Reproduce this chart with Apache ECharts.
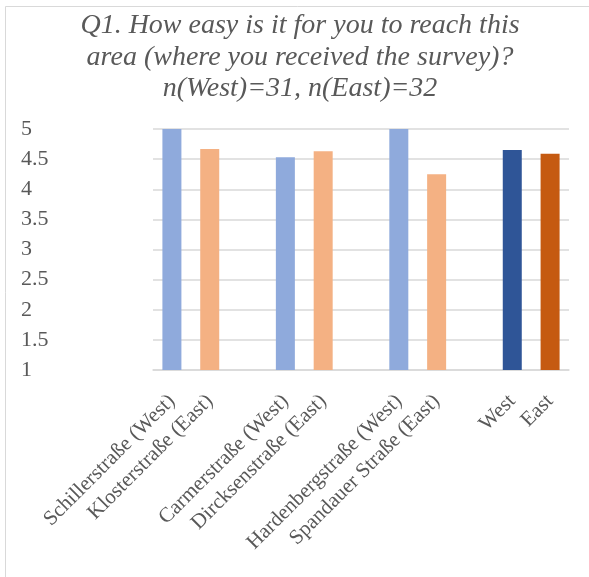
<!DOCTYPE html>
<html>
<head>
<meta charset="utf-8">
<style>
  html, body { margin: 0; padding: 0; background: #ffffff; }
  #chart { width: 589px; height: 577px; }
</style>
<script src="https://cdn.jsdelivr.net/npm/echarts@6/dist/echarts.min.js"></script>
</head>
<body>
<div id="chart"></div>
<script>
// Survey question and sample sizes
const titleLines = [
  'Q1. How easy is it for you to reach this',
  'area (where you received the survey)?',
  'n(West)=31, n(East)=32'
];

// Locations (blank entries leave a gap between location pairs)
const categories = [
  'Schillerstraße (West)', 'Klosterstraße (East)', '',
  'Carmerstraße (West)', 'Dircksenstraße (East)', '',
  'Hardenbergstraße (West)', 'Spandauer Straße (East)', '',
  'West', 'East'
];

// Mean rating per location
const meanScores = [5.0, 4.67, null, 4.53, 4.63, null, 5.0, 4.25, null, 4.65, 4.59];

// Value axis
const yMin = 1;
const yMax = 5;
const yStep = 0.5;

const palette = {
  westSite: '#8FAADC',
  eastSite: '#F4B183',
  westTotal: '#2F5597',
  eastTotal: '#C55A11'
};

function barColor(name) {
  if (name === 'West') return palette.westTotal;
  if (name === 'East') return palette.eastTotal;
  return name.indexOf('(West)') >= 0 ? palette.westSite : palette.eastSite;
}

const textColor = '#595959';
const serif = '"Liberation Serif", "Times New Roman", serif';

const chart = echarts.init(document.getElementById('chart'), null, { renderer: 'canvas' });

chart.setOption({
  animation: false,
  backgroundColor: '#ffffff',
  grid: { left: 153, right: 20, top: 129, bottom: 207, containLabel: false },
  graphic: [
    {
      type: 'rect',
      shape: { x: 5.5, y: 6.5, width: 700, height: 700 },
      style: { fill: 'none', stroke: '#d9d9d9', lineWidth: 1 },
      silent: true,
      z: -10
    },
    {
      type: 'text',
      x: 300,
      y: 10,
      style: {
        text: titleLines.join('\n'),
        align: 'center',
        verticalAlign: 'top',
        fill: textColor,
        font: 'italic 28px ' + serif,
        lineHeight: 31.5
      },
      silent: true
    }
  ],
  xAxis: {
    type: 'category',
    data: categories,
    axisLine: { show: true, lineStyle: { color: '#d9d9d9', width: 1.5 } },
    axisTick: { show: false },
    axisLabel: {
      interval: 0,
      rotate: 45,
      margin: 28,
      color: textColor,
      fontFamily: serif,
      fontSize: 21
    }
  },
  yAxis: {
    type: 'value',
    min: yMin,
    max: yMax,
    interval: yStep,
    axisLine: { show: false },
    axisTick: { show: false },
    splitLine: { lineStyle: { color: '#d9d9d9', width: 1.5 } },
    axisLabel: {
      align: 'left',
      margin: 132,
      color: textColor,
      fontFamily: serif,
      fontSize: 22
    }
  },
  series: [
    {
      type: 'bar',
      barWidth: 19,
      data: meanScores.map(function (v, i) {
        return {
          value: v,
          itemStyle: { color: barColor(categories[i]) }
        };
      })
    }
  ]
});
</script>
</body>
</html>
